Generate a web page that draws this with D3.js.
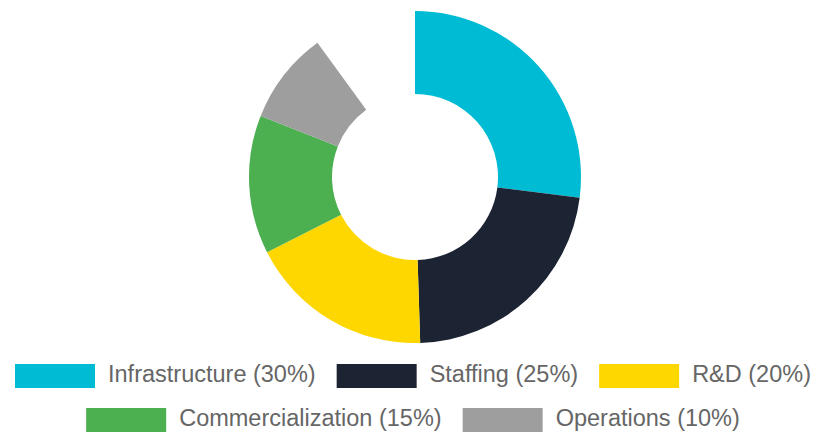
<!DOCTYPE html>
<html>
<head>
<meta charset="utf-8">
<script src="https://cdn.jsdelivr.net/npm/d3@7"></script>
<style>
  html, body { margin: 0; padding: 0; background: #fff; }
  svg { display: block; }
</style>
</head>
<body>
<div id="chart"></div>
<script>
// Data
var categories = ["Infrastructure", "Staffing", "R&D", "Commercialization", "Operations"];
var shares = [30, 25, 20, 15, 10];
var colors = ["#00BBD4", "#1C2333", "#FFD700", "#4CAF50", "#9E9E9E"];
var legendRows = [[0, 1, 2], [3, 4]];

var totwidth = 818,
	totheight = 432,
	cx = 415,
	cy = 177,
	outerR = 166,
	innerR = 83,
	sweep = 0.9 * 2 * Math.PI,   // ring stops short of the full turn
	boxW = 80,
	boxH = 24,
	boxGap = 13,
	itemGap = 21,
	fontSize = 23.5;

var svg = d3.select("#chart").append("svg")
	.attr("width", totwidth)
	.attr("height", totheight);

// Donut

var pie = d3.pie()
	.sort(null)
	.startAngle(0)
	.endAngle(sweep)
	.value(function(d) { return d; });

var arc = d3.arc()
	.innerRadius(innerR)
	.outerRadius(outerR);

svg.append("g")
	.attr("transform", "translate(" + cx + "," + cy + ")")
	.selectAll("path").data(pie(shares)).enter().append("path")
	.attr("d", arc)
	.attr("fill", function(d, i) { return colors[i]; });

// Legend, rows centred

var legend = svg.append("g").attr("class", "legend");

legendRows.forEach(function(row, r) {
	var rowG = legend.append("g");
	var x = 0;
	var y0 = 364 + r * 44;
	row.forEach(function(i) {
		rowG.append("rect")
			.attr("x", x)
			.attr("y", y0)
			.attr("width", boxW)
			.attr("height", boxH)
			.attr("fill", colors[i]);
		var t = rowG.append("text")
			.attr("x", x + boxW + boxGap)
			.attr("y", y0 + 18)
			.attr("font-family", "'Liberation Sans', Arial, sans-serif")
			.attr("font-size", fontSize)
			.attr("fill", "#666")
			.text(categories[i] + " (" + shares[i] + "%)");
		x += boxW + boxGap + t.node().getComputedTextLength() + itemGap;
	});
	var rowW = x - itemGap;
	rowG.attr("transform", "translate(" + ((totwidth - rowW) / 2 + 4) + ",0)");
});
</script>
</body>
</html>
